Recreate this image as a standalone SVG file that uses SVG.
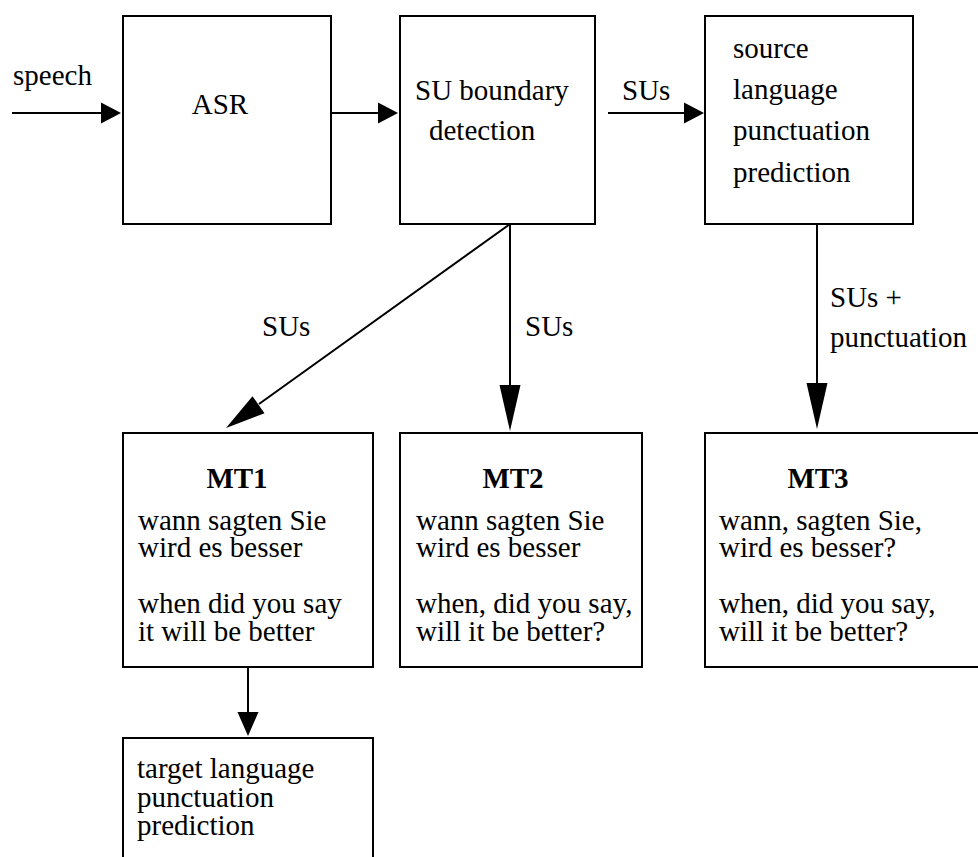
<svg xmlns="http://www.w3.org/2000/svg" width="978" height="857" viewBox="0 0 978 857">
  <style>
    .box { fill: #ffffff; stroke: #000000; stroke-width: 2; }
    .wire { stroke: #000000; stroke-width: 2; fill: none; }
    .head { fill: #000000; stroke: none; }
    text { font-family: "Liberation Serif", Tinos, "Times New Roman", "Nimbus Roman", "DejaVu Serif", serif; font-size: 29px; font-weight: normal; fill: #000000; }
    .title { font-weight: bold; text-anchor: middle; }
    .mid { text-anchor: middle; }
  </style>
  <rect width="978" height="857" fill="#ffffff"/>

  <!-- connectors -->
  <g id="connectors">
    <!-- speech input -->
    <line class="wire" x1="12" y1="113" x2="102" y2="113"/>
    <polygon class="head" points="101,102.5 121,113 101,123.5"/>
    <text x="13" y="85">speech</text>
    <!-- ASR to SU boundary detection -->
    <line class="wire" x1="331" y1="113" x2="379" y2="113"/>
    <polygon class="head" points="378,102.5 398,113 378,123.5"/>
    <!-- SU boundary detection to source punctuation -->
    <line class="wire" x1="608" y1="113" x2="685" y2="113"/>
    <polygon class="head" points="684,102.5 704,113 684,123.5"/>
    <text x="622" y="100">SUs</text>
    <!-- SU boundary detection to MT1 -->
    <line class="wire" x1="510" y1="224" x2="259" y2="404"/>
    <polygon class="head" points="226,428 252.5,396.2 264.5,413.2"/>
    <text x="262" y="336">SUs</text>
    <!-- SU boundary detection to MT2 -->
    <line class="wire" x1="510" y1="224" x2="510" y2="386"/>
    <polygon class="head" points="499.5,385 520.5,385 510,431"/>
    <text x="525" y="336">SUs</text>
    <!-- source punctuation to MT3 -->
    <line class="wire" x1="817" y1="224" x2="817" y2="384"/>
    <polygon class="head" points="806.5,383 827.5,383 817,429"/>
    <text x="830" y="307">SUs +</text>
    <text x="830" y="347">punctuation</text>
    <!-- MT1 to target punctuation -->
    <line class="wire" x1="248" y1="667" x2="248" y2="713"/>
    <polygon class="head" points="237.5,712 258.5,712 248,736"/>
  </g>

  <g id="asr">
    <rect class="box" x="123" y="16" width="208" height="208"/>
    <text class="mid" x="220" y="114">ASR</text>
  </g>

  <g id="su-boundary">
    <rect class="box" x="400" y="16" width="195" height="208"/>
    <text x="415" y="100">SU boundary</text>
    <text x="429" y="140">detection</text>
  </g>

  <g id="source-punctuation">
    <rect class="box" x="705" y="16" width="208" height="208"/>
    <text x="733" y="58">source</text>
    <text x="733" y="99">language</text>
    <text x="733" y="140">punctuation</text>
    <text x="733" y="182">prediction</text>
  </g>

  <g id="mt1">
    <rect class="box" x="123" y="433" width="250" height="234"/>
    <text class="title" x="237" y="488">MT1</text>
    <text x="138" y="530">wann sagten Sie</text>
    <text x="138" y="557">wird es besser</text>
    <text x="138" y="613">when did you say</text>
    <text x="138" y="641">it will be better</text>
  </g>

  <g id="mt2">
    <rect class="box" x="400" y="433" width="242" height="234"/>
    <text class="title" x="513" y="488">MT2</text>
    <text x="416" y="530">wann sagten Sie</text>
    <text x="416" y="557">wird es besser</text>
    <text x="416" y="613">when, did you say,</text>
    <text x="416" y="641">will it be better?</text>
  </g>

  <g id="mt3">
    <rect class="box" x="705" y="433" width="290" height="234"/>
    <text class="title" x="818" y="488">MT3</text>
    <text x="719" y="530">wann, sagten Sie,</text>
    <text x="719" y="557">wird es besser?</text>
    <text x="719" y="613">when, did you say,</text>
    <text x="719" y="641">will it be better?</text>
  </g>

  <g id="target-punctuation">
    <rect class="box" x="123" y="738" width="250" height="140"/>
    <text x="137" y="778">target language</text>
    <text x="137" y="807">punctuation</text>
    <text x="137" y="835">prediction</text>
  </g>
</svg>
